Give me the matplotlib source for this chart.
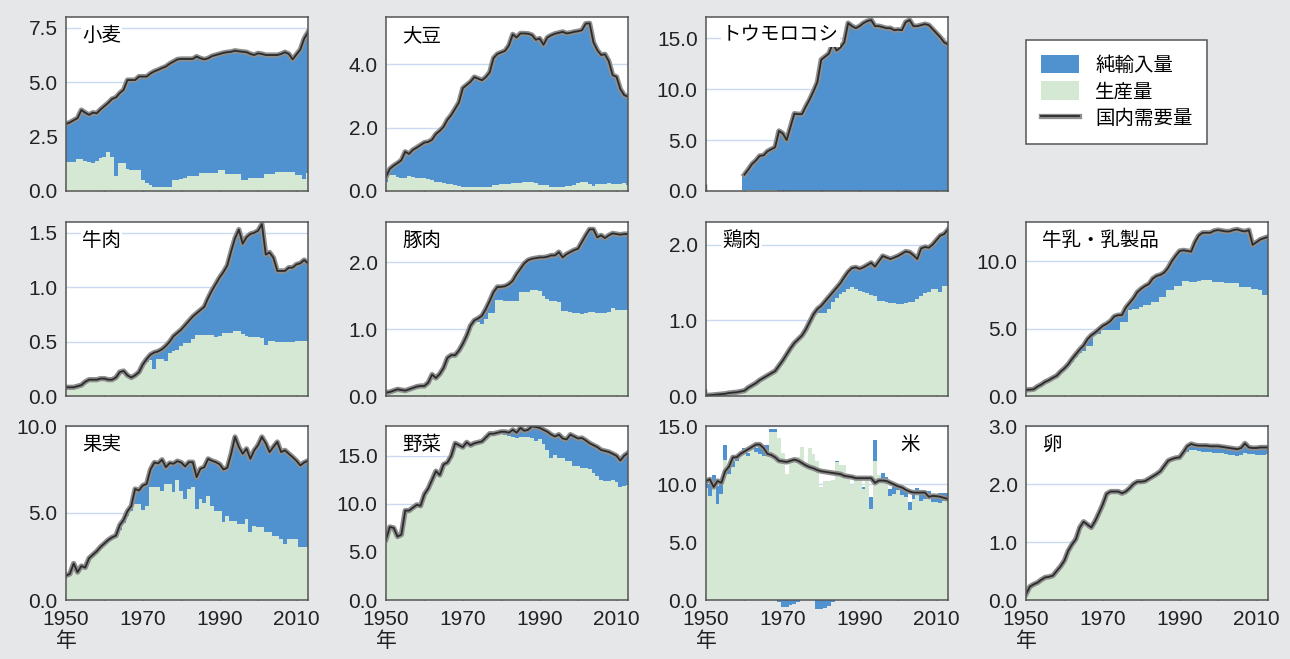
import matplotlib
matplotlib.use('Agg')
from matplotlib import pyplot as plt
from matplotlib import patheffects as pe
from matplotlib.patches import Patch
from matplotlib.lines import Line2D
import numpy as np

## DATA (million tons, 1950-2013)
years = np.arange(1950, 2014)

wheat_demand = [
    3.08, 3.15, 3.25, 3.35, 3.72, 3.6, 3.5, 3.6, 3.57, 3.75,
    3.9, 4.05, 4.23, 4.3, 4.5, 4.65, 5.1, 5.1, 5.1, 5.26,
    5.26, 5.26, 5.4, 5.5, 5.57, 5.65, 5.72, 5.85, 5.95, 6.05,
    6.07, 6.07, 6.07, 6.07, 6.18, 6.1, 6.05, 6.1, 6.2, 6.25,
    6.3, 6.35, 6.38, 6.4, 6.45, 6.42, 6.4, 6.38, 6.3, 6.25,
    6.33, 6.3, 6.25, 6.25, 6.25, 6.25, 6.3, 6.38, 6.3, 6.05,
    6.28, 6.5, 7.0, 7.3]
wheat_prod = [
    1.35, 1.35, 1.35, 1.45, 1.45, 1.4, 1.35, 1.3, 1.4, 1.5,
    1.55, 1.78, 1.55, 0.7, 1.27, 1.27, 1.0, 0.97, 0.97, 0.97,
    0.5, 0.35, 0.28, 0.2, 0.2, 0.2, 0.2, 0.2, 0.5, 0.5,
    0.55, 0.6, 0.7, 0.7, 0.7, 0.85, 0.85, 0.85, 0.85, 0.85,
    0.97, 0.97, 0.78, 0.78, 0.78, 0.78, 0.5, 0.5, 0.58, 0.58,
    0.58, 0.58, 0.8, 0.8, 0.8, 0.87, 0.87, 0.87, 0.87, 0.87,
    0.73, 0.73, 0.55, 0.85]

soy_demand = [
    0.45, 0.7, 0.8, 0.88, 0.97, 1.24, 1.17, 1.3, 1.37, 1.45,
    1.53, 1.55, 1.62, 1.8, 1.9, 2.03, 2.25, 2.4, 2.6, 2.8,
    3.25, 3.35, 3.45, 3.6, 3.55, 3.5, 3.6, 3.75, 4.2, 4.33,
    4.38, 4.43, 4.6, 4.95, 4.85, 4.98, 4.98, 4.97, 4.93, 4.78,
    4.82, 4.62, 4.85, 4.92, 4.97, 5.0, 5.03, 4.98, 5.0, 5.03,
    5.05, 5.08, 5.29, 5.3, 4.7, 4.45, 4.3, 4.32, 4.1, 3.66,
    3.61, 3.22, 3.03, 2.98]
soy_prod = [
    0.3, 0.5, 0.5, 0.45, 0.4, 0.4, 0.48, 0.45, 0.42, 0.42,
    0.4, 0.38, 0.36, 0.3, 0.3, 0.25, 0.22, 0.21, 0.18, 0.15,
    0.13, 0.12, 0.12, 0.12, 0.12, 0.12, 0.12, 0.12, 0.18, 0.2,
    0.21, 0.21, 0.22, 0.24, 0.25, 0.26, 0.27, 0.28, 0.27, 0.26,
    0.2, 0.19, 0.19, 0.12, 0.12, 0.12, 0.13, 0.15, 0.16, 0.2,
    0.24, 0.27, 0.27, 0.23, 0.16, 0.23, 0.23, 0.23, 0.26, 0.23,
    0.22, 0.22, 0.24, 0.2]

# corn: no figures before 1960
corn_demand = [np.nan] * 10 + [
    1.6, 2.1, 2.65, 3.0, 3.45, 3.5, 3.9, 4.1, 4.3, 5.9,
    5.65, 5.0, 6.3, 7.6, 7.55, 7.55, 8.3, 9.0, 9.8, 10.7,
    12.9, 13.2, 13.5, 14.5, 13.8, 14.1, 14.6, 16.5, 16.2, 16.0,
    16.2, 16.5, 16.7, 16.8, 16.2, 16.2, 16.1, 16.0, 16.0, 15.8,
    15.85, 15.8, 16.6, 16.8, 16.2, 16.2, 16.3, 16.4, 16.3, 15.9,
    15.5, 15.1, 14.6, 14.4]
corn_prod = [np.nan] * 10 + [
    0.1, 0.1, 0.1, 0.09, 0.08, 0.07, 0.06, 0.05, 0.05, 0.04,
    0.03, 0.02, 0.01, 0.01, 0.0, 0.0, 0.0, 0.0, 0.0, 0.0,
    0.0, 0.0, 0.0, 0.0, 0.0, 0.0, 0.0, 0.0, 0.0, 0.0,
    0.0, 0.0, 0.0, 0.0, 0.0, 0.0, 0.0, 0.0, 0.0, 0.0,
    0.0, 0.0, 0.0, 0.0, 0.0, 0.0, 0.0, 0.0, 0.0, 0.0,
    0.0, 0.0, 0.0, 0.0]

beef_demand = [
    0.08, 0.08, 0.08, 0.09, 0.1, 0.13, 0.15, 0.15, 0.15, 0.16,
    0.16, 0.15, 0.15, 0.17, 0.22, 0.23, 0.19, 0.17, 0.19, 0.22,
    0.29, 0.34, 0.38, 0.4, 0.41, 0.43, 0.46, 0.5, 0.55, 0.58,
    0.61, 0.65, 0.69, 0.73, 0.76, 0.79, 0.82, 0.9, 0.97, 1.03,
    1.09, 1.14, 1.2, 1.33, 1.45, 1.53, 1.4, 1.46, 1.49, 1.5,
    1.52, 1.58, 1.3, 1.32, 1.27, 1.15, 1.15, 1.15, 1.18, 1.18,
    1.21, 1.22, 1.25, 1.22]
beef_prod = [
    0.07, 0.07, 0.07, 0.08, 0.09, 0.12, 0.14, 0.14, 0.14, 0.15,
    0.15, 0.14, 0.14, 0.16, 0.21, 0.22, 0.18, 0.16, 0.18, 0.21,
    0.28, 0.31, 0.33, 0.25, 0.34, 0.34, 0.32, 0.4, 0.41, 0.42,
    0.46, 0.49, 0.49, 0.52, 0.56, 0.56, 0.56, 0.56, 0.56, 0.54,
    0.55, 0.58, 0.58, 0.58, 0.6, 0.6, 0.57, 0.55, 0.54, 0.54,
    0.54, 0.53, 0.47, 0.51, 0.51, 0.5, 0.5, 0.5, 0.5, 0.5,
    0.51, 0.51, 0.51, 0.51]

pork_demand = [
    0.05, 0.06, 0.08, 0.1, 0.09, 0.08, 0.1, 0.12, 0.14, 0.15,
    0.15, 0.2, 0.32, 0.27, 0.33, 0.42, 0.57, 0.61, 0.61, 0.68,
    0.78, 0.9, 1.05, 1.13, 1.16, 1.2, 1.3, 1.42, 1.55, 1.63,
    1.63, 1.64, 1.67, 1.72, 1.82, 1.9, 1.98, 2.03, 2.05, 2.06,
    2.07, 2.07, 2.08, 2.1, 2.1, 2.15, 2.07, 2.12, 2.15, 2.18,
    2.2, 2.3, 2.4, 2.49, 2.49, 2.37, 2.4, 2.36, 2.4, 2.43,
    2.42, 2.41, 2.42, 2.42]
pork_prod = [
    0.05, 0.06, 0.08, 0.1, 0.09, 0.08, 0.1, 0.12, 0.14, 0.15,
    0.15, 0.2, 0.32, 0.27, 0.33, 0.42, 0.57, 0.61, 0.61, 0.68,
    0.78, 0.9, 0.98, 1.1, 1.1, 1.07, 1.15, 1.24, 1.24, 1.44,
    1.44, 1.42, 1.42, 1.42, 1.42, 1.55, 1.55, 1.56, 1.58, 1.58,
    1.57, 1.49, 1.45, 1.42, 1.42, 1.4, 1.27, 1.27, 1.25, 1.24,
    1.24, 1.23, 1.24, 1.25, 1.25, 1.24, 1.24, 1.24, 1.26, 1.31,
    1.28, 1.28, 1.28, 1.28]

chicken_demand = [
    0.01, 0.01, 0.015, 0.02, 0.025, 0.03, 0.04, 0.045, 0.05, 0.06,
    0.07, 0.11, 0.14, 0.17, 0.21, 0.24, 0.27, 0.3, 0.33, 0.4,
    0.47, 0.55, 0.63, 0.7, 0.75, 0.8, 0.88, 0.98, 1.08, 1.15,
    1.19, 1.25, 1.31, 1.37, 1.43, 1.49, 1.57, 1.64, 1.69, 1.7,
    1.68, 1.7, 1.73, 1.76, 1.71, 1.78, 1.85, 1.83, 1.81, 1.83,
    1.85, 1.88, 1.91, 1.9, 1.86, 1.81, 1.95, 1.97, 1.96, 2.0,
    2.06, 2.12, 2.14, 2.2]
chicken_prod = [
    0.01, 0.01, 0.015, 0.02, 0.025, 0.03, 0.04, 0.045, 0.05, 0.06,
    0.07, 0.11, 0.14, 0.17, 0.21, 0.24, 0.27, 0.3, 0.33, 0.4,
    0.47, 0.55, 0.63, 0.7, 0.75, 0.8, 0.88, 0.98, 1.06, 1.1,
    1.1, 1.1, 1.15, 1.24, 1.3, 1.35, 1.38, 1.41, 1.44, 1.42,
    1.39, 1.37, 1.36, 1.34, 1.32, 1.26, 1.26, 1.24, 1.23, 1.23,
    1.22, 1.21, 1.23, 1.24, 1.24, 1.28, 1.32, 1.36, 1.38, 1.41,
    1.41, 1.38, 1.45, 1.46]

dairy_demand = [
    0.45, 0.47, 0.5, 0.7, 0.85, 1.05, 1.18, 1.35, 1.5, 1.8,
    2.05, 2.35, 2.75, 3.1, 3.45, 3.74, 4.2, 4.5, 4.7, 4.95,
    5.2, 5.35, 5.56, 5.9, 5.99, 6.0, 6.55, 6.9, 7.25, 7.7,
    7.95, 8.15, 8.3, 8.7, 8.9, 8.98, 9.15, 9.5, 10.0, 10.4,
    10.75, 10.8, 10.75, 10.7, 11.4, 11.9, 12.1, 12.1, 12.1, 12.25,
    12.3, 12.25, 12.2, 12.2, 12.3, 12.35, 12.25, 12.2, 12.3, 11.2,
    11.4, 11.6, 11.7, 11.8]
dairy_prod = [
    0.45, 0.47, 0.5, 0.7, 0.85, 1.05, 1.18, 1.35, 1.5, 1.75,
    2.0, 2.2, 2.5, 2.9, 3.2, 3.37, 3.74, 3.74, 4.6, 4.6,
    4.86, 4.86, 4.86, 4.86, 4.9, 5.5, 5.5, 6.36, 6.48, 6.48,
    6.6, 6.73, 6.73, 6.98, 6.98, 7.36, 7.36, 7.86, 7.86, 8.15,
    8.15, 8.55, 8.5, 8.48, 8.48, 8.5, 8.6, 8.6, 8.6, 8.48,
    8.48, 8.48, 8.4, 8.35, 8.35, 8.35, 8.1, 8.1, 8.05, 7.9,
    7.9, 7.85, 7.5, 7.5]

fruit_demand = [
    1.4, 1.5, 2.1, 1.6, 1.95, 1.87, 2.4, 2.6, 2.8, 3.05,
    3.25, 3.45, 3.6, 3.7, 4.3, 4.6, 5.1, 5.4, 6.38, 6.29,
    6.58, 6.67, 7.5, 7.9, 7.85, 8.06, 7.63, 7.87, 7.83, 7.98,
    7.9, 7.67, 7.92, 7.92, 7.06, 7.54, 7.63, 8.11, 8.0, 7.92,
    7.8, 7.5, 7.6, 8.4, 9.37, 8.79, 8.4, 8.69, 8.11, 8.6,
    8.9, 9.37, 9.0, 8.5, 8.8, 9.08, 8.5, 8.6, 8.4, 8.21,
    8.0, 7.73, 7.9, 8.0]
fruit_prod = [
    1.4, 1.5, 2.1, 1.6, 1.95, 1.87, 2.4, 2.6, 2.8, 3.05,
    3.25, 3.45, 3.6, 3.7, 4.0, 4.4, 4.8, 5.1, 5.5, 5.5,
    5.2, 5.42, 6.48, 6.48, 6.5, 6.29, 6.67, 6.67, 6.19, 6.87,
    6.29, 5.8, 6.38, 6.48, 5.23, 5.8, 5.6, 6.0, 5.42, 5.13,
    5.13, 4.46, 4.85, 4.56, 4.56, 4.37, 4.37, 4.65, 3.88, 4.27,
    4.17, 4.17, 3.88, 3.88, 3.7, 3.7, 3.5, 3.2, 3.5, 3.5,
    3.5, 3.02, 3.02, 3.02]

veg_demand = [
    6.3, 7.6, 7.5, 6.6, 6.8, 9.3, 9.3, 9.6, 9.9, 9.8,
    11.0, 11.6, 12.5, 13.4, 13.0, 14.1, 14.3, 15.0, 16.3, 16.1,
    15.9, 16.4, 16.1, 16.3, 16.4, 16.5, 16.9, 17.3, 17.3, 17.4,
    17.5, 17.5, 17.4, 17.7, 17.4, 17.9, 17.6, 17.7, 18.06, 18.0,
    17.9, 17.7, 17.5, 17.2, 17.0, 17.2, 16.8, 16.7, 17.2, 17.0,
    16.8, 16.85, 16.6, 16.3, 16.1, 15.9, 15.6, 15.5, 15.4, 15.2,
    15.0, 14.5, 15.0, 15.3]
veg_prod = [
    6.3, 7.6, 7.5, 6.6, 6.8, 9.3, 9.3, 9.6, 9.9, 9.8,
    11.0, 11.6, 12.5, 13.4, 13.0, 14.1, 14.3, 15.0, 16.3, 16.1,
    15.9, 16.4, 16.1, 16.3, 16.4, 16.5, 16.9, 17.2, 17.2, 17.2,
    17.3, 17.2, 17.1, 17.0, 16.8, 17.0, 17.0, 17.0, 16.85, 16.5,
    16.7, 16.2, 15.6, 14.8, 15.1, 14.8, 14.8, 14.5, 14.5, 13.9,
    13.9, 13.7, 13.7, 13.6, 13.2, 12.9, 12.5, 12.4, 12.4, 12.5,
    12.3, 11.8, 11.9, 12.0]

rice_demand = [
    10.26, 10.4, 9.74, 10.26, 10.1, 11.1, 11.5, 12.3, 12.3, 12.6,
    12.8, 13.0, 13.2, 13.4, 13.4, 13.1, 12.6, 12.5, 12.3, 12.0,
    11.95, 11.9, 12.0, 12.1, 12.0, 11.8, 11.6, 11.45, 11.35, 11.2,
    11.1, 11.05, 11.0, 10.95, 10.9, 10.85, 10.7, 10.65, 10.6, 10.5,
    10.5, 10.5, 10.5, 10.5, 10.1, 10.3, 10.3, 10.26, 10.1, 9.95,
    9.8, 9.7, 9.5, 9.35, 9.26, 9.26, 9.26, 9.26, 8.9, 8.97,
    8.95, 8.9, 8.8, 8.7]
rice_prod = [
    9.65, 9.0, 9.9, 8.25, 9.1, 12.1, 10.9, 11.5, 12.0, 12.5,
    12.9, 12.4, 13.0, 12.8, 12.6, 12.4, 12.7, 14.45, 14.45, 14.0,
    12.7, 10.9, 11.9, 12.1, 12.3, 13.2, 11.8, 13.1, 12.6, 12.0,
    9.75, 10.26, 10.27, 10.37, 11.88, 11.66, 11.65, 10.6, 9.9, 10.35,
    10.5, 9.6, 10.57, 7.83, 11.98, 10.75, 10.34, 10.0, 8.96, 9.18,
    9.49, 9.06, 8.89, 7.79, 8.73, 9.07, 8.56, 8.71, 8.82, 8.47,
    8.48, 8.4, 8.52, 8.6]
# net imports, negative = net exports
rice_imports = [
    0.6, 1.0, 0.9, 1.6, 1.2, 1.3, 0.5, 0.45, 0.3, 0.2,
    0.2, 0.25, 0.2, 0.3, 0.7, 1.0, 0.7, 0.3, 0.25, -0.2,
    -0.6, -0.6, -0.4, -0.35, -0.2, 0.0, 0.0, 0.0, 0.0, -0.8,
    -0.8, -0.7, -0.5, -0.2, 0.1, 0.0, 0.0, 0.0, 0.0, 0.0,
    0.0, 0.1, 0.0, 1.05, 1.8, 0.0, 0.6, 0.6, 0.6, 0.6,
    0.5, 0.5, 0.5, 0.7, 0.3, 0.6, 0.6, 0.6, 0.6, 0.6,
    0.6, 0.8, 0.7, 0.6]

egg_demand = [
    0.1, 0.23, 0.27, 0.3, 0.35, 0.39, 0.4, 0.42, 0.5, 0.58,
    0.68, 0.85, 0.96, 1.05, 1.25, 1.35, 1.3, 1.25, 1.36, 1.5,
    1.65, 1.83, 1.87, 1.87, 1.87, 1.84, 1.87, 1.93, 2.0, 2.04,
    2.04, 2.05, 2.09, 2.13, 2.17, 2.22, 2.31, 2.4, 2.43, 2.45,
    2.46, 2.55, 2.65, 2.69, 2.67, 2.66, 2.66, 2.66, 2.65, 2.65,
    2.65, 2.64, 2.63, 2.62, 2.61, 2.6, 2.62, 2.7, 2.63, 2.62,
    2.62, 2.63, 2.63, 2.63]
egg_prod = [
    0.1, 0.23, 0.27, 0.3, 0.35, 0.39, 0.4, 0.42, 0.5, 0.58,
    0.68, 0.85, 0.96, 1.05, 1.25, 1.35, 1.3, 1.25, 1.36, 1.5,
    1.65, 1.82, 1.86, 1.86, 1.85, 1.82, 1.86, 1.92, 1.99, 2.03,
    2.03, 2.04, 2.08, 2.12, 2.16, 2.21, 2.3, 2.39, 2.42, 2.43,
    2.44, 2.52, 2.56, 2.58, 2.58, 2.57, 2.56, 2.56, 2.55, 2.54,
    2.54, 2.53, 2.52, 2.5, 2.5, 2.49, 2.5, 2.53, 2.52, 2.51,
    2.5, 2.5, 2.5, 2.51]

## STYLE
BLUE = '#4f92cf'
GREEN = '#d5e8d4'
BG = '#e6e7e9'
GRID = '#c9daf0'
SPINE = '#555555'
LINE = '#2b2b2b'
HALO = [pe.Stroke(linewidth=3.8, foreground='#8e8e8e'), pe.Normal()]

plt.rcParams['font.family'] = ['Liberation Sans', 'Noto Sans CJK JP']
JP = ['Noto Sans CJK JP', 'DejaVu Sans']

fig = plt.figure(figsize=(12.9, 6.59), dpi=100, facecolor=BG)
W, H = 1290, 659
col_left = [66, 386, 706, 1026]
row_top = [17, 222, 426]
aw, ah = 242, 174

# name, demand, production, imports(None = demand - production), ymax, yticks, row, col, title x
panels = [
    ('小麦', wheat_demand, wheat_prod, None, 8.0, [0, 2.5, 5, 7.5], 0, 0, 0.066),
    ('大豆', soy_demand, soy_prod, None, 5.5, [0, 2, 4], 0, 1, 0.066),
    ('トウモロコシ', corn_demand, corn_prod, None, 17.1, [0, 5, 10, 15], 0, 2, 0.066),
    ('牛肉', beef_demand, beef_prod, None, 1.6, [0, 0.5, 1.0, 1.5], 1, 0, 0.066),
    ('豚肉', pork_demand, pork_prod, None, 2.6, [0, 1, 2], 1, 1, 0.066),
    ('鶏肉', chicken_demand, chicken_prod, None, 2.3, [0, 1, 2], 1, 2, 0.066),
    ('牛乳・乳製品', dairy_demand, dairy_prod, None, 12.9, [0, 5, 10], 1, 3, 0.066),
    ('果実', fruit_demand, fruit_prod, None, 10.0, [0, 5, 10], 2, 0, 0.066),
    ('野菜', veg_demand, veg_prod, None, 18.1, [0, 5, 10, 15], 2, 1, 0.066),
    ('米', rice_demand, rice_prod, rice_imports, 15.0, [0, 5, 10, 15], 2, 2, 0.845),
    ('卵', egg_demand, egg_prod, None, 3.0, [0, 1, 2, 3], 2, 3, 0.066),
]

for name, demand, prod, imports, ymax, yticks, r, c, tx in panels:
    ax = fig.add_axes([col_left[c] / W, 1 - (row_top[r] + ah) / H, aw / W, ah / H])
    ax.set_facecolor('white')
    demand = np.array(demand, dtype=float)
    prod = np.array(prod, dtype=float)
    if imports is None:
        imp = np.clip(demand - prod, 0, None)
    else:
        imp = np.array(imports, dtype=float)

    ## BARS
    ax.bar(years, prod, width=1.0, color=GREEN, linewidth=0, zorder=2)
    pos = np.where(imp > 0, imp, 0)
    ax.bar(years, pos, bottom=prod, width=1.0, color=BLUE, linewidth=0, zorder=2)
    neg = np.where(imp < 0, imp, 0)
    if (neg < 0).any():
        ax.bar(years, neg, width=1.0, color=BLUE, linewidth=0, zorder=2, clip_on=False)

    ## DEMAND LINE
    ax.plot(years, demand, color=LINE, lw=1.3, zorder=4, path_effects=HALO, solid_joinstyle='round')

    ## AXES
    ax.set_xlim(1950, 2013)
    ax.set_ylim(0, ymax)
    ax.set_yticks(yticks)
    ax.set_yticklabels(['%.1f' % v for v in yticks])
    ax.set_xticks(range(1950, 2011, 10))
    if r == 2:
        ax.set_xticklabels(['1950\n年', '', '1970', '', '1990', '', '2010'])
    else:
        ax.set_xticklabels([])
    ax.yaxis.grid(True, color=GRID, lw=1.0)
    ax.set_axisbelow(True)
    ax.tick_params(axis='x', direction='in', length=5, width=1, color=SPINE,
                   labelsize=15, pad=7, labelcolor='#222222')
    ax.tick_params(axis='y', length=0, pad=6, labelsize=15, labelcolor='#222222')
    for s in ax.spines.values():
        s.set_color(SPINE)
        s.set_linewidth(1.1)
        s.set_zorder(5)

    ## TITLE
    ha = 'left' if tx < 0.5 else 'center'
    ax.text(tx, 0.895, name, transform=ax.transAxes, fontsize=14, family=JP,
            ha=ha, va='center', zorder=6,
            bbox=dict(facecolor='white', edgecolor='none', pad=1.0))

## LEGEND
handles = [Patch(facecolor=BLUE, edgecolor='none'),
           Patch(facecolor=GREEN, edgecolor='none'),
           Line2D([], [], color=LINE, lw=1.3, path_effects=HALO)]
labels = ['純輸入量', '生産量', '国内需要量']
leg = fig.legend(handles, labels, loc='upper left',
                 bbox_to_anchor=(1026 / W, 1 - 40 / H), bbox_transform=fig.transFigure,
                 frameon=True, fancybox=False, edgecolor=SPINE, framealpha=1,
                 prop={'family': JP, 'size': 14}, handlelength=2.0, handleheight=1.1,
                 borderpad=0.75, labelspacing=0.3, handletextpad=0.8, borderaxespad=0)
leg.get_frame().set_linewidth(1.1)

fig.savefig('out.png', dpi=100, facecolor=BG)
